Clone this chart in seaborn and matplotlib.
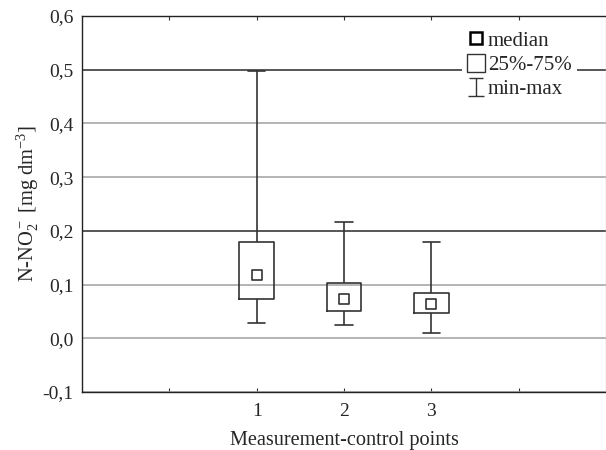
import numpy as np
import pandas as pd
import matplotlib
matplotlib.use("Agg")
import matplotlib.pyplot as plt
import seaborn as sns
from matplotlib.path import Path
from matplotlib.lines import Line2D

# ---- data ----
points = [1, 2, 3]
mins = [0.028, 0.024, 0.010]
q1s = [0.073, 0.051, 0.047]
medians = [0.117, 0.074, 0.064]
q3s = [0.180, 0.102, 0.085]
maxs = [0.498, 0.217, 0.180]
y_ticks = [-0.1, 0.0, 0.1, 0.2, 0.3, 0.4, 0.5, 0.6]
y_tick_labels = ["-0,1", "0,0", "0,1", "0,2", "0,3", "0,4", "0,5", "0,6"]
x_ticks = [0, 1, 2, 3, 4]
x_tick_labels = ["", "1", "2", "3", ""]
legend_labels = ["median", "25%-75%", "min-max"]

# five-number data so that quartiles match exactly (n=5, linear interpolation)
rows = []
for p, a, b, c, d, e in zip(points, mins, q1s, medians, q3s, maxs):
    for v in (a, b, c, d, e):
        rows.append({"point": p, "value": v})
df = pd.DataFrame(rows)
med_df = pd.DataFrame({"point": points, "median": medians})

sns.set_theme(style="white")
plt.rcParams["font.family"] = ["Liberation Serif", "DejaVu Serif"]
plt.rcParams["mathtext.fontset"] = "custom"
plt.rcParams["mathtext.rm"] = "Liberation Serif"
plt.rcParams["mathtext.it"] = "Liberation Serif:italic"

fig = plt.figure(figsize=(6.06, 4.5), dpi=100)
ax = fig.add_axes([82 / 606, 1 - 392 / 450, (606 - 82) / 606, (392 - 16) / 450])

lc = "#333333"
sns.boxplot(data=df, x="point", y="value", native_scale=True, whis=(0, 100),
            width=0.4, fill=False, color=lc, linewidth=1.2,
            medianprops=dict(linewidth=0), ax=ax)
sns.scatterplot(data=med_df, x="point", y="median", marker="s", s=45,
                facecolor="white", edgecolor=lc, linewidth=1.2, zorder=5, ax=ax)

ax.set_xlim(-1, 5)
ax.set_ylim(-0.1, 0.6)
ax.set_xticks(x_ticks)
ax.set_xticklabels(x_tick_labels, fontsize=14)
ax.set_yticks(y_ticks)
ax.set_yticklabels(y_tick_labels, fontsize=14)
ax.tick_params(axis="x", direction="in", length=3, top=True, bottom=True,
               width=0.8, color=lc, pad=8)
ax.tick_params(axis="y", length=0, pad=6)

ax.yaxis.grid(True)
dark = {0.5, 0.2}
for t, gl in zip(y_ticks, ax.get_ygridlines()):
    if round(t, 1) in dark:
        gl.set_color("#3a3a3a")
    else:
        gl.set_color("#a8a8a8")
    gl.set_linewidth(1.2)
ax.set_axisbelow(True)

for s in ax.spines.values():
    s.set_visible(True)
    s.set_color("#222222")
    s.set_linewidth(1.0)
ax.spines["right"].set_color("#cccccc")

ax.set_xlabel("Measurement-control points", fontsize=14.6, labelpad=8)
ax.set_ylabel(r"N-NO$_2^-$ [mg dm$^{-3}$]", fontsize=14.8, labelpad=1)

whisk = Path([(-0.45, -0.5), (0.45, -0.5), (0, -0.5), (0, 0.5), (-0.4, 0.5), (0.4, 0.5)],
             [Path.MOVETO, Path.LINETO, Path.MOVETO, Path.LINETO, Path.MOVETO, Path.LINETO])
handles = [
    Line2D([], [], marker="s", linestyle="none", markersize=8,
           markerfacecolor="white", markeredgecolor="black", markeredgewidth=1.8),
    Line2D([], [], marker="s", linestyle="none", markersize=12.5,
           markerfacecolor="white", markeredgecolor=lc, markeredgewidth=1.0),
    Line2D([], [], marker=whisk, linestyle="none", markersize=12.5,
           markerfacecolor="none", markeredgecolor=lc, markeredgewidth=1.0),
]
leg = ax.legend(handles, legend_labels, loc="upper left",
                bbox_to_anchor=((462 - 82) / 524, (392 - 26) / 376), fontsize=15,
                frameon=True, facecolor="white", edgecolor="none", framealpha=1,
                handlelength=0.8, handletextpad=0.2, labelspacing=0.22,
                borderpad=0.25, borderaxespad=0, fancybox=False)

fig.savefig("out.png", dpi=100)
